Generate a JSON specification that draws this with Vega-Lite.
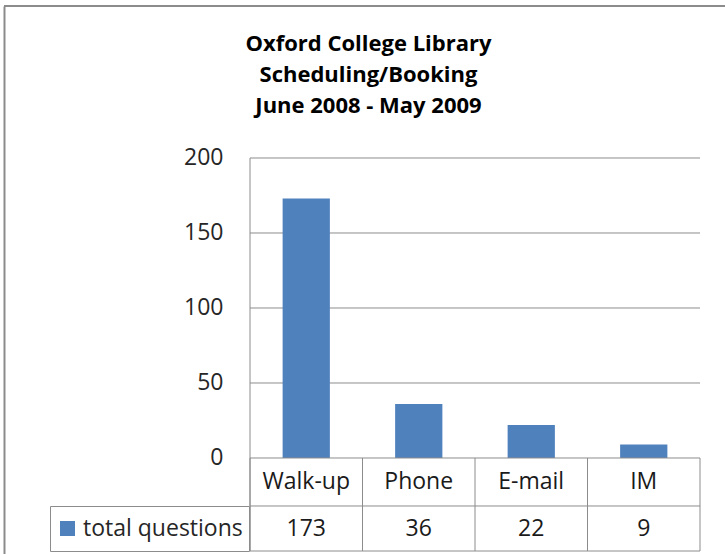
{
  "$schema": "https://vega.github.io/schema/vega-lite/v6.json",
  "width": 721,
  "height": 548,
  "autosize": {"type": "none"},
  "padding": {"left": 4, "top": 6, "right": 0, "bottom": 0},
  "background": "white",
  "config": {"view": {"stroke": null}, "font": "Open Sans, sans-serif"},
  "title": {
    "text": ["Oxford College Library", "Scheduling/Booking", "June 2008 - May 2009"],
    "fontSize": 22,
    "fontWeight": "bold",
    "font": "Open Sans, sans-serif",
    "color": "#000000",
    "anchor": "middle",
    "frame": "group",
    "baseline": "top",
    "offset": -113,
    "lineHeight": 31,
    "dx": 4
  },
  "data": {
    "values": [
      {"channel": "Walk-up", "questions": 173},
      {"channel": "Phone", "questions": 36},
      {"channel": "E-mail", "questions": 22},
      {"channel": "IM", "questions": 9}
    ]
  },
  "layer": [
    {
      "data": {"values": [{}]},
      "mark": {"type": "rule", "color": "#8c8c8c", "strokeWidth": 2},
      "encoding": {
        "y": {
          "datum": 301.333,
          "type": "quantitative",
          "scale": {"domain": [-64, 301.333], "nice": false},
          "axis": {
            "values": [0, 50, 100, 150, 200],
            "orient": "left",
            "domain": true,
            "domainColor": "#8c8c8c",
            "domainWidth": 2,
            "ticks": false,
            "tickSize": 0,
            "labelPadding": -219,
            "labelAlign": "right",
            "labelBaseline": "middle",
            "labelFontSize": 23,
            "labelColor": "#262626",
            "labelFlush": false,
            "labelOverlap": false,
            "labelBound": false,
            "grid": false,
            "title": null
          }
        }
      }
    },
    {
      "data": {"values": [{"g": 50}, {"g": 100}, {"g": 150}, {"g": 200}]},
      "mark": {"type": "rule", "color": "#8c8c8c", "strokeWidth": 1},
      "encoding": {
        "y": {"field": "g", "type": "quantitative"},
        "x": {
          "datum": "Walk-up",
          "type": "nominal",
          "bandPosition": 0,
          "scale": {"domain": ["Walk-up", "Phone", "E-mail", "IM"], "range": [246, 696], "paddingInner": 0, "paddingOuter": 0},
          "axis": null
        },
        "x2": {"datum": "IM", "bandPosition": 1}
      }
    },
    {
      "mark": {"type": "bar", "width": {"band": 0.42}},
      "encoding": {
        "x": {"field": "channel", "type": "nominal", "sort": null, "axis": null},
        "y": {"field": "questions", "type": "quantitative"},
        "y2": {"datum": 0},
        "color": {
          "datum": "total questions",
          "type": "nominal",
          "scale": {"range": ["#4F81BD"]},
          "legend": {
            "orient": "none",
            "legendX": 46,
            "legendY": 500,
            "title": null,
            "symbolType": "square",
            "symbolSize": 225,
            "symbolStrokeWidth": 0,
            "labelFontSize": 23,
            "labelColor": "#262626",
            "labelOffset": 4,
            "labelLimit": 300,
            "padding": 6,
            "clipHeight": 33,
            "strokeColor": "#8c8c8c",
            "fillColor": "#ffffff"
          }
        }
      }
    },
    {
      "data": {"values": [{}]},
      "mark": {"type": "rule", "color": "#8c8c8c", "strokeWidth": 1},
      "encoding": {
        "y": {"datum": 0},
        "x": {"datum": "Walk-up", "type": "nominal", "bandPosition": 0, "axis": null},
        "x2": {"datum": "IM", "bandPosition": 1}
      }
    },
    {
      "data": {"values": [{}]},
      "mark": {"type": "rule", "color": "#8c8c8c", "strokeWidth": 1},
      "encoding": {
        "y": {"datum": -32},
        "x": {"datum": "Walk-up", "type": "nominal", "bandPosition": 0, "axis": null},
        "x2": {"datum": "IM", "bandPosition": 1}
      }
    },
    {
      "data": {"values": [{}]},
      "mark": {"type": "rule", "color": "#8c8c8c", "strokeWidth": 1},
      "encoding": {
        "y": {"datum": -62},
        "x": {"datum": "Walk-up", "type": "nominal", "bandPosition": 0, "axis": null},
        "x2": {"datum": "IM", "bandPosition": 1}
      }
    },
    {
      "mark": {"type": "rule", "color": "#8c8c8c", "strokeWidth": 1},
      "encoding": {
        "x": {"field": "channel", "type": "nominal", "bandPosition": 0, "axis": null},
        "y": {"datum": 0},
        "y2": {"datum": -62}
      }
    },
    {
      "data": {"values": [{}]},
      "mark": {"type": "rule", "color": "#8c8c8c", "strokeWidth": 1},
      "encoding": {
        "x": {"datum": "Walk-up", "type": "nominal", "bandPosition": 0, "axis": null},
        "y": {"datum": 200},
        "y2": {"datum": -62}
      }
    },
    {
      "data": {"values": [{}]},
      "mark": {"type": "rule", "color": "#8c8c8c", "strokeWidth": 1},
      "encoding": {
        "x": {"datum": "IM", "type": "nominal", "bandPosition": 1, "axis": null},
        "y": {"datum": 0},
        "y2": {"datum": -62}
      }
    },
    {
      "mark": {"type": "text", "fontSize": 23, "color": "#1a1a1a", "baseline": "middle"},
      "encoding": {
        "x": {"field": "channel", "type": "nominal", "sort": null, "axis": null},
        "y": {"datum": -16},
        "text": {"field": "channel"}
      }
    },
    {
      "mark": {"type": "text", "fontSize": 23, "color": "#1a1a1a", "baseline": "middle"},
      "encoding": {
        "x": {"field": "channel", "type": "nominal", "sort": null, "axis": null},
        "y": {"datum": -47},
        "text": {"field": "questions"}
      }
    }
  ]
}
